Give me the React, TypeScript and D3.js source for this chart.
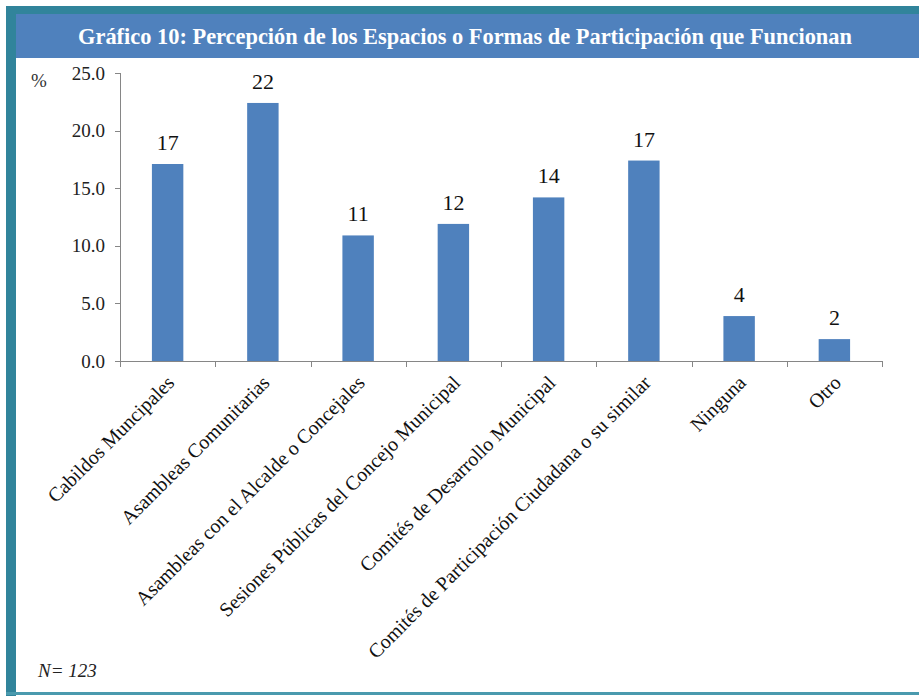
import React from "react";
import * as d3 from "d3";

const categories = [
  "Cabildos Muncipales",
  "Asambleas Comunitarias",
  "Asambleas con el Alcalde o Concejales",
  "Sesiones Públicas del Concejo Municipal",
  "Comités de Desarrollo Municipal",
  "Comités de Participación Ciudadana o su similar",
  "Ninguna",
  "Otro",
];
const values = [17.1, 22.4, 10.9, 11.9, 14.2, 17.4, 3.9, 1.9];
const yTicks = [0, 5, 10, 15, 20, 25];
const title = "Gráfico 10: Percepción de los Espacios o Formas de Participación que Funcionan";
const yUnit = "%";
const note = "N= 123";

const W = 919;
const H = 696;
const FONT = "'Liberation Serif', 'Times New Roman', serif";

export default function App() {
  const x = d3.scaleBand<string>().domain(categories).range([120, 882]).paddingInner(0.67).paddingOuter(0.335);
  const xb = d3.scaleBand<string>().domain(categories).range([120, 882]);
  const y = d3.scaleLinear().domain([0, 25]).range([361, 73]);
  const fmt = d3.format(".1f");
  return (
    <div style={{ position: "absolute", left: 0, top: 0 }}>
      <svg width={W} height={H} style={{ display: "block", background: "#fff" }}>
        {/* frame */}
        <rect x={0} y={0} width={W} height={H} fill="#fff" />
        <rect x={6} y={6} width={W - 6} height={8} fill="#31849B" />
        <rect x={6} y={6} width={10} height={H - 6} fill="#31849B" />
        <rect x={6} y={692} width={W - 6} height={3} fill="#4A9AAE" />
        <rect x={16} y={14} width={W - 16} height={44} fill="#4F81BD" />
        <text x={465} y={44} textAnchor="middle" fill="#fff" fontFamily={FONT} fontWeight="bold" fontSize={22.4}>
          {title}
        </text>
        {/* y axis */}
        <line x1={120.5} x2={120.5} y1={y(25)} y2={y(0)} stroke="#868686" />
        {yTicks.map((t) => (
          <g key={t}>
            <line x1={115} x2={120.5} y1={Math.round(y(t)) + 0.5} y2={Math.round(y(t)) + 0.5} stroke="#868686" />
            <text x={105} y={y(t) + 6.5} textAnchor="end" fontFamily={FONT} fontSize={19} fill="#222">
              {fmt(t)}
            </text>
          </g>
        ))}
        <text x={31} y={87} fontFamily={FONT} fontSize={19} fill="#333">{yUnit}</text>
        {/* bars */}
        {categories.map((c, i) => (
          <g key={c}>
            <rect x={x(c)} y={y(values[i])} width={x.bandwidth()} height={y(0) - y(values[i])} fill="#4F81BD" />
            <text x={(x(c) as number) + x.bandwidth() / 2} y={y(values[i]) - 14} textAnchor="middle" fontFamily={FONT} fontSize={22} fill="#111">
              {Math.round(values[i])}
            </text>
          </g>
        ))}
        {/* x axis */}
        <line x1={120} x2={882} y1={361.5} y2={361.5} stroke="#868686" />
        {[...categories.map((c) => xb(c) as number), 882].map((v, i) => (
          <line key={i} x1={Math.round(v) + 0.5} x2={Math.round(v) + 0.5} y1={361} y2={367} stroke="#868686" />
        ))}
        {categories.map((c) => {
          const cx = (xb(c) as number) + xb.bandwidth() / 2 + 8;
          const cy = 384;
          return (
            <text key={c} transform={`translate(${cx},${cy}) rotate(-45)`} textAnchor="end" fontFamily={FONT} fontSize={20} fill="#111">
              {c}
            </text>
          );
        })}
        <text x={38} y={677} fontFamily={FONT} fontStyle="italic" fontSize={19} fill="#222">{note}</text>
      </svg>
    </div>
  );
}
